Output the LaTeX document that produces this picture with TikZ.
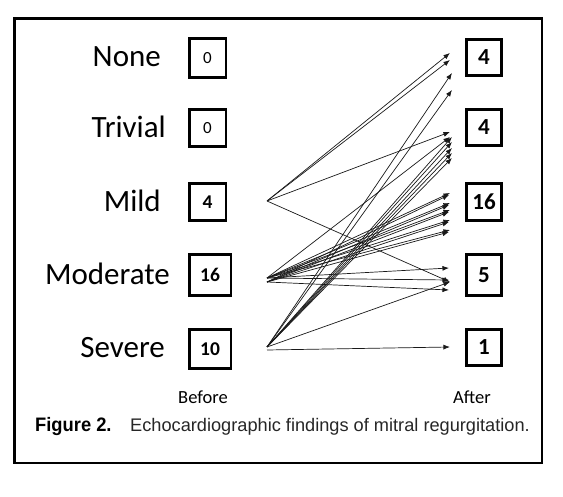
\documentclass[tikz,border=0pt]{standalone}
\usepackage{fontspec}
\setmainfont{Carlito}
\newfontfamily\capfont{Liberation Sans}
\newfontfamily\capbold[FakeStretch=0.94]{Liberation Sans Bold}
\usetikzlibrary{positioning,arrows.meta}
\tikzset{
  cnt/.style  ={rectangle, draw=black, line width=2.6pt, inner sep=0pt,
                minimum width=36.5pt, minimum height=37.5pt,
                font=\fontsize{19.5}{19.5}\selectfont\bfseries},
  cntw/.style ={cnt, minimum width=41.5pt},
  zero/.style ={cnt, font=\fontsize{17}{17}\selectfont},
  aft/.style  ={cnt, minimum width=35.5pt, font=\fontsize{23}{23}\selectfont\bfseries},
  grade/.style={font=\fontsize{31}{31}\selectfont, inner sep=0pt},
  axis/.style ={font=\fontsize{18.5}{18.5}\selectfont, inner sep=0pt},
  arr/.style  ={-{Latex[length=6.5pt,width=5pt]}, line width=0.7pt, draw=black!90},
}
\begin{document}
\begin{tikzpicture}[x=1pt,y=-1pt]
  \useasboundingbox (0,0) rectangle (563,497);
  \draw[line width=2.6pt] (14.5,18.5) rectangle (542,463);

  % before counts
  \node[zero, minimum height=39.5pt, anchor=west] (bNone) at (188,58) {0};
  \node[zero, anchor=west] (bTriv) at (188,128) {0};
  \node[cnt, anchor=west] (bMild) at (188,202) {4};
  \node[cntw, minimum height=41.5pt, anchor=west] (bMod) at (188,275) {16};
  \node[cntw, minimum height=39.5pt, anchor=west] (bSev) at (188,349) {10};

  % grade labels
  \node[grade, left=27pt of bNone, yshift=1.5pt] (lNone) {None};
  \node[grade, left=22pt of bTriv, yshift=1pt] (lTriv) {Trivial};
  \node[grade, left=27pt of bMild, yshift=1pt] (lMild) {Mild};
  \node[grade, left=18pt of bMod, yshift=1pt] (lMod) {Moderate};
  \node[grade, left=23pt of bSev, yshift=1pt] (lSev) {Severe};

  % after counts
  \node[aft, minimum height=36.5pt] (aNone) at (484,57.5) {4};
  \node[aft, minimum height=36.5pt] (aTriv) at (484,127.5) {4};
  \node[aft] (aMild) at (484,202) {16};
  \node[aft, minimum height=41.5pt] (aMod) at (484,275) {5};
  \node[aft, minimum height=36.5pt] (aSev) at (484,347.5) {1};

  \node[axis] (before) at (203,397) {Before};
  \node[axis] (after) at (472,397) {After};

  % caption
  \node[anchor=base west, inner sep=0pt, font=\capbold\fontsize{19.5}{19.5}\selectfont]
       (figlab) at (35,431.5) {Figure 2.};
  \node[anchor=base west, inner sep=0pt, text=black!85,
        font=\capfont\fontsize{18.2}{18.2}\selectfont]
       (figcap) at (130,431.5) {Echocardiographic findings of mitral regurgitation.};

  % transitions
  \coordinate (mSrc)  at (267,201);
  \coordinate (dSrc)  at (267,278);
  \coordinate (dSrcB) at (267,282);
  \coordinate (sSrc)  at (267,347);
  \coordinate (sSrcB) at (267,350);

  \foreach \dy in {-4.5,2.5}
    \draw[arr] (mSrc) -- ([shift={(-15,\dy)}]aNone.west);
  \draw[arr] (mSrc) -- ([shift={(-15,4.5)}]aTriv.west);
  \draw[arr] (mSrc) -- ([shift={(-15,7)}]aMod.west);

  \foreach \dy in {15.5,32.5}
    \draw[arr] (sSrc) -- ([shift={(-13,\dy)}]aNone.west);
  \foreach \dy in {9.5,14.5,20.5,25.5,30.5}
    \draw[arr] (sSrc) -- ([shift={(-13,\dy)}]aTriv.west);
  \draw[arr] (sSrc) -- ([shift={(-15,7)}]aMod.west);
  \draw[arr] (sSrcB) -- ([shift={(-15,-0.5)}]aSev.west);

  \draw[arr] (dSrc) -- ([shift={(-15,9.5)}]aTriv.west);
  \foreach \dy in {-9,1,8,18,28}
    \draw[arr] (dSrc) -- ([shift={(-15,\dy)}]aMild.west);
  \foreach \dy in {-7,3,10,20,30}
    \draw[arr] (dSrcB) -- ([shift={(-16,\dy)}]aMild.west);
  \foreach \dy in {-7,5}
    \draw[arr] (dSrc) -- ([shift={(-16,\dy)}]aMod.west);
  \draw[arr] (dSrcB) -- ([shift={(-16,15)}]aMod.west);
\end{tikzpicture}
\end{document}
